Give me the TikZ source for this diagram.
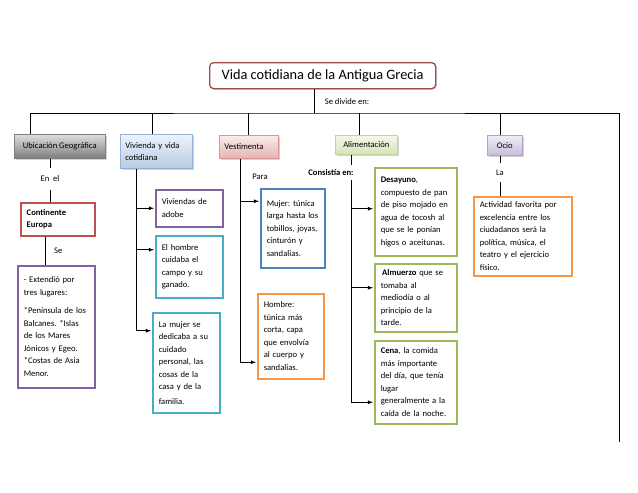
\documentclass[tikz,border=0pt]{standalone}
\usepackage{fontspec}
\setmainfont{Carlito}
\usetikzlibrary{shadows,calc}

\definecolor{titulo}{RGB}{160,75,72}
\definecolor{rojo}{RGB}{192,80,77}
\definecolor{morado}{RGB}{128,100,162}
\definecolor{turquesa}{RGB}{75,172,198}
\definecolor{azul}{RGB}{79,129,189}
\definecolor{naranja}{RGB}{247,150,70}
\definecolor{verde}{RGB}{155,187,89}

\tikzset{
  txt/.style={font=\fontsize{8.6}{12.5}\selectfont\frenchspacing},
  lbl/.style={txt, inner sep=0pt},
  cat/.style={txt, anchor=north west, align=left, inner xsep=5pt, inner ysep=2pt,
    line width=0.6pt, drop shadow={opacity=0.35, shadow xshift=1.5pt, shadow yshift=-1.5pt}},
  info/.style={txt, anchor=north west, align=left, inner xsep=6pt, inner ysep=3pt,
    line width=1.5pt, draw=#1, fill=white},
  line/.style={line width=0.8pt}
}

\begin{document}
\begin{tikzpicture}[x=1pt, y=-1pt, >=latex]
\useasboundingbox (0,0) rectangle (638,493);

\node[anchor=north west, draw=titulo, line width=1.3pt, rounded corners=4pt, fill=white,
  minimum width=226pt, minimum height=26pt, font=\fontsize{14.3}{16}\selectfont,
  drop shadow={opacity=0.3, shadow xshift=1.2pt, shadow yshift=-1.2pt}]
  (title) at (209,62) {Vida cotidiana de la Antigua Grecia};
\node[lbl] (sedivide) at (347,102) {Se divide en:};

% categorias
\node[cat, draw=gray, top color={rgb,255:red,222;green,222;blue,222}, bottom color={rgb,255:red,125;green,125;blue,125},
  minimum width=91pt, minimum height=24pt, align=center] (ubic) at (14,134) {Ubicación Geográfica};
\node[cat, draw={rgb,255:red,149;green,179;blue,215}, top color={rgb,255:red,238;green,243;blue,251}, bottom color={rgb,255:red,183;green,203;blue,228},
  text width=62pt, minimum height=34pt] (viv) at (120,134) {Vivienda y vida\\cotidiana};
\node[cat, draw={rgb,255:red,217;green,150;blue,148}, top color={rgb,255:red,251;green,236;blue,236}, bottom color={rgb,255:red,228;green,180;blue,179},
  text width=49pt, minimum height=23pt] (vest) at (219,135) {Vestimenta};
\node[cat, draw={rgb,255:red,195;green,214;blue,155}, top color={rgb,255:red,244;green,248;blue,235}, bottom color={rgb,255:red,213;green,227;blue,186},
  minimum width=62pt, minimum height=19pt, align=center] (alim) at (335,135) {Alimentación};
\node[cat, draw={rgb,255:red,179;green,162;blue,199}, top color={rgb,255:red,242;green,238;blue,247}, bottom color={rgb,255:red,200;green,189;blue,216},
  minimum width=35pt, minimum height=20pt, align=center] (ocio) at (487,135) {Ocio};

% cuadros
\node[info=rojo, text width=62pt, minimum height=33pt] (cont) at (20,202) {\textbf{Continente}\\\textbf{Europa}};
\node[info=morado, text width=65pt, minimum height=122pt] (ext) at (17,265)
  {- Extendió por\\tres lugares:\\[6pt]*Península de los\\Balcanes. *Islas\\de los Mares\\Jónicos y Egeo.\\{}*Costas de Asia\\Menor.};
\node[info=morado, text width=55pt, minimum height=37pt] (adobe) at (155,189) {Viviendas de\\adobe};
\node[info=turquesa, text width=55pt, minimum height=62pt] (vivhombre) at (155,235) {El hombre\\cuidaba el\\campo y su\\ganado.};
\node[info=turquesa, text width=55pt, minimum height=100pt] (vivmujer) at (152,312)
  {La mujer se\\dedicaba a su\\cuidado\\personal, las\\cosas de la\\casa y de la\\[2pt]familia.};
\node[info=azul, text width=52pt, minimum height=79pt] (vestmujer) at (260,188)
  {Mujer: túnica\\larga hasta los\\tobillos, joyas,\\cinturón y\\sandalias.};
\node[info=naranja, text width=54pt, minimum height=85pt] (vesthombre) at (257,293)
  {Hombre:\\túnica más\\corta, capa\\que envolvía\\al cuerpo y\\sandalias.};
\node[info=verde, text width=70pt, minimum height=88pt] (desayuno) at (374,167)
  {\textbf{Desayuno},\\compuesto de pan\\de piso mojado en\\agua de tocosh al\\que se le ponían\\higos o aceitunas.};
\node[info=verde, text width=70pt, minimum height=68pt] (almuerzo) at (374,263)
  {\,\textbf{Almuerzo} que se\\tomaba al\\mediodía o al\\principio de la\\tarde.};
\node[info=verde, text width=70pt, minimum height=83pt] (cena) at (374,340)
  {\textbf{Cena}, la comida\\más importante\\del día, que tenía\\lugar\\generalmente a la\\caída de la noche.};
\node[info=naranja, text width=86pt, minimum height=79pt] (actividad) at (473,196)
  {Actividad favorita por\\excelencia entre los\\ciudadanos será la\\política, música, el\\teatro y el ejercicio\\físico.};

% etiquetas
\node[lbl, minimum height=22pt] (enel) at (50,179) {En\ \ el};
\node[lbl] (para) at (260,177) {Para};
\node[lbl, minimum height=15pt, font=\fontsize{8.6}{12.5}\selectfont\bfseries] (consis) at (331,172.5) {Consistía en:};
\node[lbl, minimum height=19pt] (la) at (500,172.5) {La};

% conectores
\coordinate (bus) at (314,113);
\coordinate (busend) at (619,442);
\coordinate (vivtop) at ([xshift=-20pt]viv.south);
\coordinate (vesttop) at ([xshift=-8pt]vest.south);
\coordinate (alimtop) at ([xshift=-15pt]alim.south);
\coordinate (hombrein) at ([yshift=17pt]vivhombre.west);
\coordinate (mujerin) at ([yshift=32pt]vivmujer.west);
\coordinate (vmujerin) at ([yshift=27pt]vestmujer.west);
\coordinate (vhombrein) at ([yshift=-26pt]vesthombre.west);
\coordinate (desin) at ([yshift=3pt]desayuno.west);
\coordinate (almin) at ([yshift=10pt]almuerzo.west);
\coordinate (cenain) at ([yshift=-20pt]cena.west);

\draw[line] (title.south -| bus) -- (bus);
\draw[line] ([xshift=16pt]ubic.north west) |- (bus) -| (busend);
\draw[line] ([xshift=-4pt]viv.north) -- ([xshift=-4pt]viv.north |- bus);
\draw[line] (vest.north) -- (vest.north |- bus);
\draw[line] ([xshift=-7pt]alim.north) -- ([xshift=-7pt]alim.north |- bus);
\draw[line] ([xshift=-4pt]ocio.north) -- ([xshift=-4pt]ocio.north |- bus);

\draw[line] (enel.north |- ubic.south) -- (enel.north);
\draw[line] (enel.south) -- (enel.south |- cont.north);
\draw[line] ([xshift=-12pt]cont.south) -- ([xshift=-12pt]cont.south |- ext.north) node[lbl, midway, right=8pt] (se) {Se};

\draw[line, ->, shorten >=1pt] (vivtop) |- (mujerin); % trunk vivienda
\draw[line, ->, shorten >=1pt] (vivtop |- adobe.west) -- (adobe.west);
\draw[line, ->, shorten >=1pt] (vivtop |- hombrein) -- (hombrein);

\draw[line, ->, shorten >=1pt] (vesttop) |- (vhombrein); % trunk vestimenta
\draw[line, ->, shorten >=1pt] (vesttop |- vmujerin) -- (vmujerin);

\draw[line] (alimtop) -- (alimtop |- consis.north);
\draw[line, ->, shorten >=1pt] (alimtop |- consis.south) |- (cenain); % trunk alimentacion
\draw[line, ->, shorten >=1pt] (alimtop |- desin) -- (desin);
\draw[line, ->, shorten >=1pt] (alimtop |- almin) -- (almin);

\draw[line] (la.north |- ocio.south) -- (la.north);
\draw[line] (la.south) -- (la.south |- actividad.north);

\end{tikzpicture}
\end{document}
